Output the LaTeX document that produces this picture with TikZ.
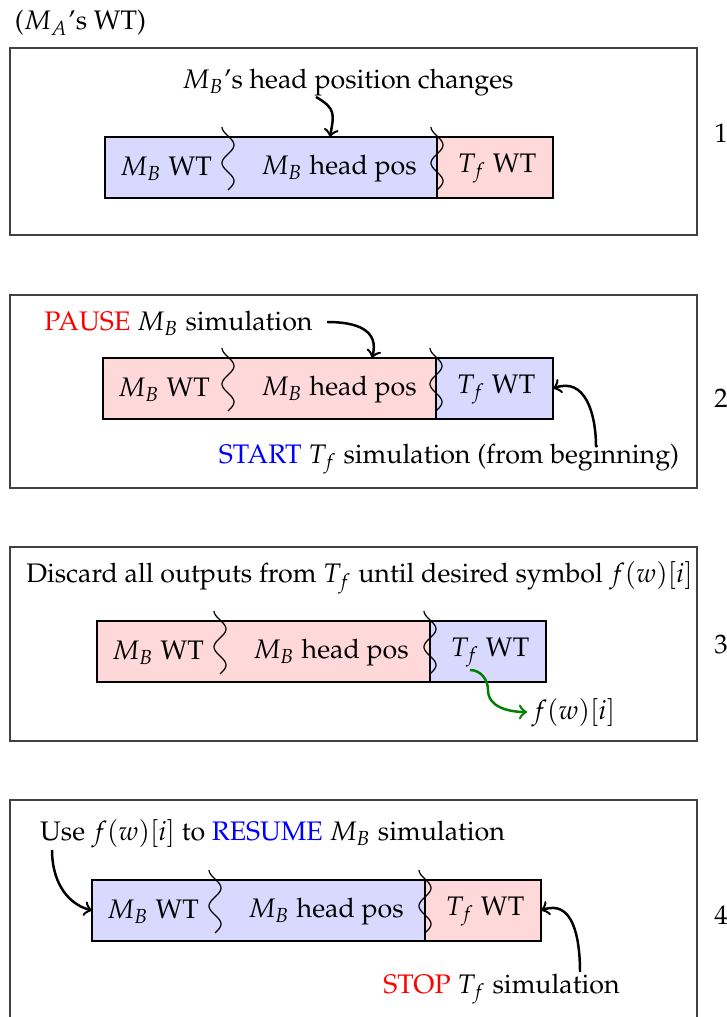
\documentclass[tikz,border=0pt]{standalone}
\usepackage[T1]{fontenc}
\usepackage{mathpazo}
\usepackage{tikz}
\usetikzlibrary{arrows}

\newcommand{\wavy}[3]{%
\draw[smooth,samples=40,domain=0:1,variable=\t] plot ({#1-6*cos(630*\t)},{#2-(#2-#3)*\t});
}

\begin{document}
\begin{tikzpicture}[x=0.3226pt,y=0.3226pt,
  lbl/.style={inner sep=0pt,font=\fontsize{8.65}{10.5}\selectfont},
  ptr/.style={->,thick},
  gptr/.style={->,thick,color=green!50!black},
  panel/.style={draw=black!75,line width=0.5pt}]

\clip (0,0) rectangle (727,1017);

\foreach \n/\lo/\hi in {1/782/969,2/529/722,3/276/470,4/-23/217}
{
\draw[panel] (10,\lo) rectangle (697,\hi);
}

\foreach \n/\l/\w/\s/\r/\b/\cl/\cr in {1/105/228/437/553/819/blue/red,2/103/228/436/553/598/red/blue,3/97/220/430/546/335/red/blue,4/92/215/425/541/76/blue/red}
{
\fill[\cl!15] (\l,\b) rectangle (\s,\b+61);
\fill[\cr!15] (\s,\b) rectangle (\r,\b+61);
\draw (\l,\b) rectangle (\r,\b+61);
\draw (\s,\b)--(\s,\b+61);
\wavy{\w}{\b+71}{\b-8}
\wavy{\s}{\b+71}{\b-8}
\node[lbl] (mbwt\n) at (\l+61,\b+29.5) {$M_B$ WT};
\node[lbl] (mbhp\n) at (\w+111,\b+29.5) {$M_B$ head pos};
\node[lbl] (tfwt\n) at (\s+60,\b+29.5) {$T_f$ WT};
\coordinate (tl\n) at (\l,\b+30.5);
\coordinate (tr\n) at (\r,\b+30.5);
}

\foreach \n/\y in {1/884,2/619,3/372,4/102}
{
\node[lbl] (num\n) at (721,\y) {\n};
}

\node[lbl] (mawt) at (80.5,994) {($M_A$'s WT)};
\node[lbl] (hpc) at (348,934) {$M_B$'s head position changes};
\node[lbl] (pause) at (178.5,694) {\textcolor{red}{PAUSE} $M_B$ simulation};
\node[lbl] (start) at (449,558) {\textcolor{blue}{START} $T_f$ simulation (from beginning)};
\node[lbl] (disc) at (359.5,439) {Discard all outputs from $T_f$ until desired symbol $f(w)[i]$};
\node[lbl] (fwi) at (573.5,304) {$f(w)[i]$};
\node[lbl] (use) at (272.5,183) {Use $f(w)[i]$ to \textcolor{blue}{RESUME} $M_B$ simulation};
\node[lbl] (stop) at (501.5,28) {\textcolor{red}{STOP} $T_f$ simulation};

\coordinate (a1) at (316,920);
\coordinate (b1) at (330,880);
\coordinate (a2) at (327,695);
\coordinate (b2) at (372,659);
\coordinate (c2) at (596,570);
\coordinate (g3) at (470,347);
\coordinate (gm3) at (488,327);
\coordinate (f3) at (527,305);
\coordinate (a4) at (52,167);
\coordinate (c4) at (580,45);

\draw[ptr] (a1) to[out=-30,in=80,looseness=1.4] (b1);
\draw[ptr] (a2) to[out=0,in=75,looseness=1.3] (b2);
\draw[ptr] (c2) to[out=90,in=20,looseness=1.2] (tr2);
\draw[gptr] (g3) to[out=0,in=90] (gm3) to[out=-90,in=180] (f3);
\draw[ptr] (a4) to[out=-90,in=165] (tl4);
\draw[ptr] (c4) to[out=90,in=20,looseness=1.2] (tr4);
\end{tikzpicture}
\end{document}
